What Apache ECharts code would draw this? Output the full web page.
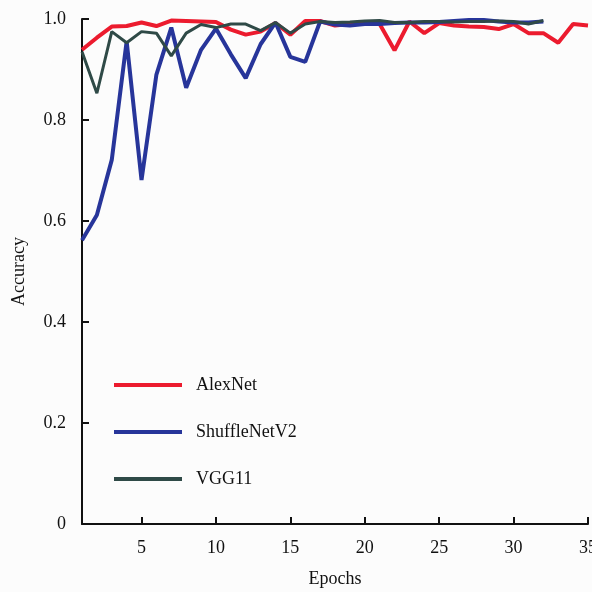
<!DOCTYPE html>
<html>
<head>
<meta charset="utf-8">
<script src="https://cdn.jsdelivr.net/npm/echarts@6/dist/echarts.min.js"></script>
<style>
html, body { margin: 0; padding: 0; background: #fcfcfc; }
#chart { width: 592px; height: 592px; }
</style>
</head>
<body>
<div id="chart"></div>
<script>
var seriesNames = ['AlexNet', 'ShuffleNetV2', 'VGG11'];
var xTicks = [5, 10, 15, 20, 25, 30, 35];

// accuracy per epoch (epoch 1, 2, ...)
var alexNet = [0.939, 0.963, 0.985, 0.986, 0.993, 0.986, 0.997, 0.996, 0.995, 0.994,
    0.979, 0.969, 0.975, 0.992, 0.969, 0.996, 0.996, 0.987, 0.990, 0.991,
    0.990, 0.938, 0.995, 0.972, 0.992, 0.987, 0.985, 0.984, 0.980, 0.990,
    0.972, 0.972, 0.953, 0.990, 0.987];
var shuffleNetV2 = [0.562, 0.612, 0.721, 0.956, 0.681, 0.890, 0.983, 0.864, 0.939, 0.981,
    0.930, 0.883, 0.950, 0.993, 0.925, 0.915, 0.995, 0.989, 0.987, 0.990,
    0.990, 0.992, 0.993, 0.993, 0.994, 0.996, 0.998, 0.998, 0.995, 0.993,
    0.993, 0.995];
var vgg11 = [0.935, 0.853, 0.975, 0.953, 0.975, 0.972, 0.927, 0.972, 0.989, 0.983,
    0.990, 0.990, 0.977, 0.993, 0.972, 0.990, 0.995, 0.993, 0.994, 0.996,
    0.997, 0.993, 0.993, 0.995, 0.995, 0.994, 0.995, 0.995, 0.996, 0.995,
    0.990, 0.997];

var colors = ['#ec1b2e', '#27359a', '#2f4a47'];
var widths = [4, 4, 3];

function toPoints(arr) {
    return arr.map(function (v, i) { return [i + 1, v]; });
}

var font = '"Liberation Serif", "DejaVu Serif", serif';

var myChart = echarts.init(document.getElementById('chart'));
var option = {
    backgroundColor: '#fcfcfc',
    animation: false,
    grid: { left: 82, right: 4, top: 19, bottom: 68, outerBoundsMode: 'none' },
    legend: {
        orient: 'vertical',
        left: 109,
        top: 371,
        icon: 'rect',
        itemWidth: 68,
        itemHeight: 4,
        itemGap: 29,
        data: seriesNames,
        textStyle: { fontFamily: font, fontSize: 18, color: '#111', padding: [0, 0, 0, 9] }
    },
    xAxis: {
        type: 'value',
        min: 1,
        max: 35,
        name: 'Epochs',
        nameLocation: 'middle',
        nameGap: 46,
        nameTextStyle: { fontFamily: font, fontSize: 18, color: '#111' },
        splitLine: { show: false },
        axisLine: { lineStyle: { color: '#111', width: 2 } },
        axisTick: { inside: true, length: 7, lineStyle: { color: '#111', width: 2 }, customValues: xTicks },
        axisLabel: { margin: 15, fontFamily: font, fontSize: 18, color: '#111', customValues: xTicks }
    },
    yAxis: {
        type: 'value',
        min: 0,
        max: 1,
        interval: 0.2,
        name: 'Accuracy',
        nameLocation: 'middle',
        nameGap: 54,
        nameTextStyle: { fontFamily: font, fontSize: 18, color: '#111' },
        splitLine: { show: false },
        axisLine: { show: true, lineStyle: { color: '#111', width: 2 } },
        axisTick: { show: true, inside: true, length: 7, lineStyle: { color: '#111', width: 2 } },
        axisLabel: {
            margin: 16, fontFamily: font, fontSize: 18, color: '#111',
            formatter: function (v) { return v === 0 ? '0' : v.toFixed(1); }
        }
    },
    series: [alexNet, shuffleNetV2, vgg11].map(function (arr, i) {
        return {
            name: seriesNames[i],
            type: 'line',
            data: toPoints(arr),
            symbol: 'none',
            color: colors[i],
            lineStyle: { color: colors[i], width: widths[i] }
        };
    })
};
myChart.setOption(option);
</script>
</body>
</html>
